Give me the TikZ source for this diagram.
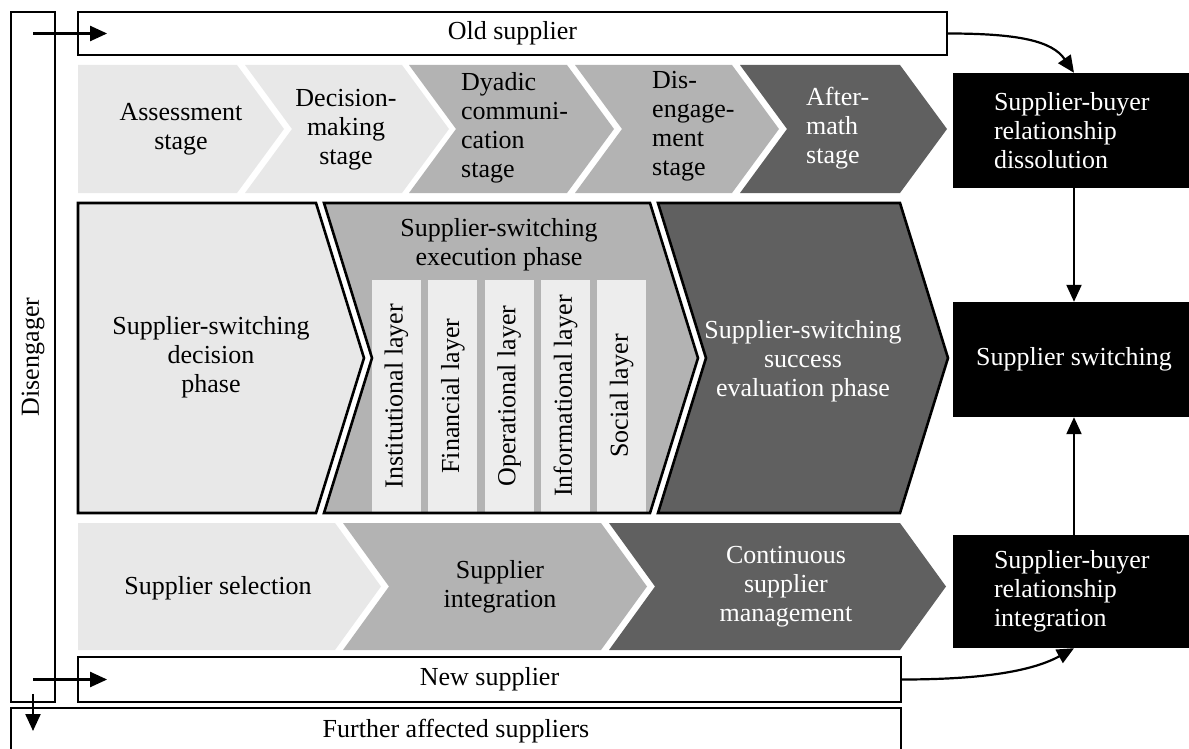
\documentclass[tikz,border=0pt]{standalone}
\usepackage{fontspec}
\setmainfont{Liberation Serif}
\usepackage{graphicx}
\usetikzlibrary{arrows.meta,calc}

\definecolor{paleGray}{RGB}{232,232,232}
\definecolor{midGray}{RGB}{179,179,179}
\definecolor{darkGray}{RGB}{96,96,96}
\definecolor{layerGray}{RGB}{237,237,237}

% chevron with a flat left end: left, right, top, bottom, tip depth, path options
\newcommand{\flatchevron}[6]{%
  \path[#6] (#1,#3) -- (#2,#3) -- ({#2+#5},{(#3+#4)/2}) -- (#2,#4) -- (#1,#4) -- cycle;}
% chevron with a notched left end
\newcommand{\notchchevron}[6]{%
  \path[#6] (#1,#3) -- (#2,#3) -- ({#2+#5},{(#3+#4)/2}) -- (#2,#4) -- (#1,#4)
    -- ({#1+#5},{(#3+#4)/2}) -- cycle;}

\begin{document}
\begin{tikzpicture}[x=1pt, y=-1pt,
  font=\fontsize{26}{29}\selectfont,
  lbl/.style={inner sep=0pt},
  box/.style={draw=black, line width=1.8pt, fill=white, inner sep=0pt},
  blk/.style={fill=black, text=white, inner sep=0pt},
  layerbox/.style={fill=layerGray, inner sep=0pt, minimum width=49pt, minimum height=232pt},
  arr/.style={line width=2.2pt, -{Triangle[length=17pt,width=15pt]}},
  outline/.style={draw=black, line width=2.6pt, line join=miter}]

\useasboundingbox (0,0) rectangle (1189,749);
\clip (0,0) rectangle (1189,749);
\fill[white] (0,0) rectangle (1189,749);

% ---- stages of the dissolution process ----
\flatchevron{78}{237}{65}{193}{47}{fill=paleGray}
\notchchevron{245}{402}{65}{193}{47}{fill=paleGray}
\notchchevron{409}{567}{65}{193}{47}{fill=midGray}
\notchchevron{575}{732}{65}{193}{47}{fill=midGray}
\notchchevron{740}{900}{65}{193}{47}{fill=darkGray}

\node[lbl, align=center] (stA) at (181,129) {Assessment\\stage};
\node[lbl, align=center] (stB) at (346,130) {Decision-\\making\\stage};
\node[lbl, align=left, anchor=west] (stC) at (461,128) {Dyadic\\communi-\\cation\\stage};
\node[lbl, align=left, anchor=west] (stD) at (652,126) {Dis-\\engage-\\ment\\stage};
\node[lbl, align=left, anchor=west, text=white] (stE) at (806,128) {After-\\math\\stage};

% ---- supplier-switching phases ----
\flatchevron{78}{316}{203}{513}{48}{fill=paleGray, outline}
\notchchevron{324}{650}{203}{513}{48}{fill=midGray}
\foreach \nm/\txt [count=\i from 0] in {inst/Institutional layer, fin/Financial layer,
    oper/Operational layer, info/Informational layer, soc/Social layer}
  \node[layerbox] (\nm) at ({396.5+56.3*\i},396) {\rotatebox{90}{\txt}};
\notchchevron{324}{650}{203}{513}{48}{outline}
\notchchevron{658}{900}{203}{513}{48}{fill=darkGray, outline}

\node[lbl, align=center] (phA) at (211,357) {Supplier-switching\\decision\\phase};
\node[lbl, align=center] (phB) at (499,245) {Supplier-switching\\execution phase};
\node[lbl, align=center, text=white] (phC) at (803,361) {Supplier-switching\\success\\evaluation phase};

% ---- stages of the integration process ----
\flatchevron{78}{335}{523}{650}{46}{fill=paleGray}
\notchchevron{343}{601}{523}{650}{46}{fill=midGray}
\notchchevron{609}{900}{523}{650}{46}{fill=darkGray}

\node[lbl] (inA) at (218,588) {Supplier selection};
\node[lbl, align=center] (inB) at (500,587) {Supplier\\integration};
\node[lbl, align=center, text=white] (inC) at (786,587) {Continuous\\supplier\\management};

% ---- actors ----
\node[box, minimum width=869pt, minimum height=43pt] (old) at (512.5,33.5) {Old supplier};
\node[box, minimum width=823pt, minimum height=45pt] (new) at (489.5,679.5) {New supplier};
% the lower box runs on past the bottom edge
\node[box, minimum width=890pt, minimum height=80pt, anchor=north] (further) at (456,707) {};
\node[lbl] (furtherText) at (456,731) {Further affected suppliers};
\node[box, minimum width=44pt, minimum height=690pt] (dis) at (33,357) {\rotatebox{90}{Disengager}};

% ---- outcomes ----
\node[blk, minimum width=242pt, minimum height=115pt, text width=160pt, align=left]
  (diss) at (1074,130.5) {Supplier-buyer\\relationship\\dissolution};
\node[blk, minimum width=242pt, minimum height=115pt] (sw) at (1074,359.5) {Supplier switching};
\node[blk, minimum width=242pt, minimum height=113pt, text width=160pt, align=left]
  (integ) at (1074,591.5) {Supplier-buyer\\relationship\\integration};

% ---- connectors ----
\draw[arr] (dis.center |- old.west) -- ([xshift=30pt]old.west);
\draw[arr] (dis.center |- new.west) -- ([xshift=30pt]new.west);
\draw[arr] ([yshift=9pt]dis.south) -- (dis.south |- furtherText.center);
\draw[arr] (old.east) .. controls +(70,0) and +(-22,-32) .. (diss.north);
\draw[arr] (diss.south) -- (sw.north);
\draw[arr] (integ.north) -- (sw.south);
\draw[arr] (new.east) .. controls +(85,0) and +(-40,22) .. (integ.south);
\end{tikzpicture}
\end{document}
